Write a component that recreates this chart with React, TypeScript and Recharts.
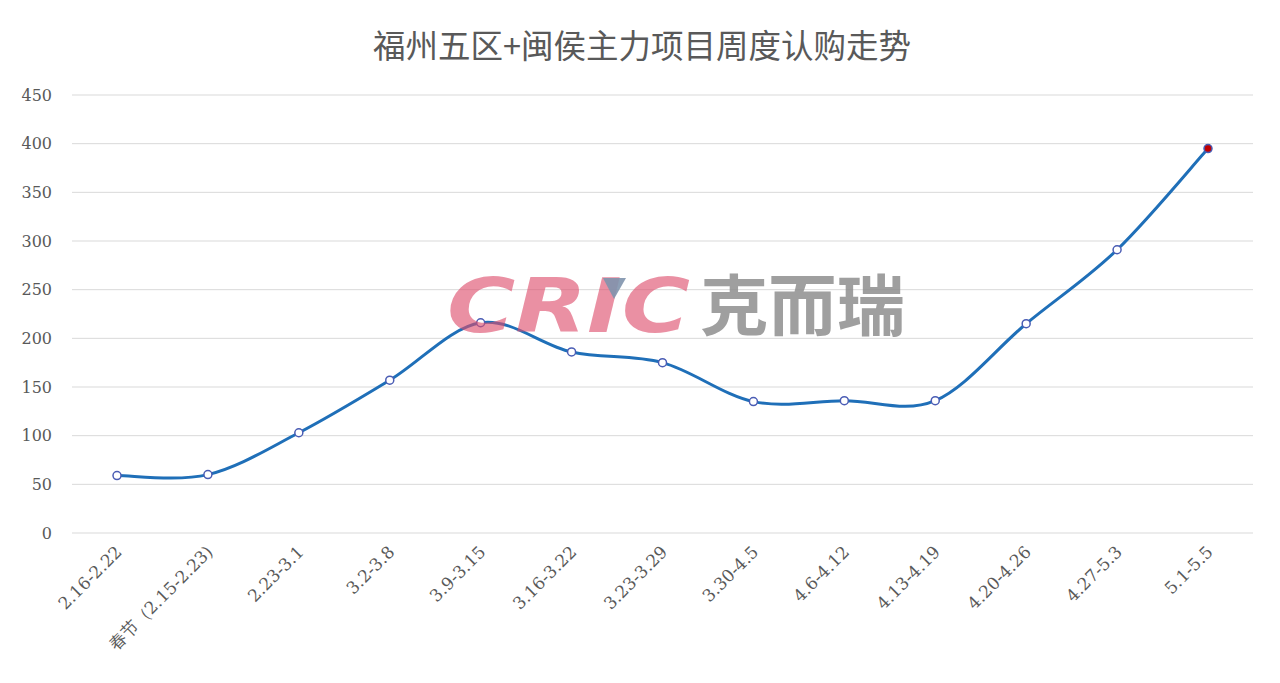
import React from "react";
import { LineChart, Line, XAxis, YAxis, CartesianGrid } from "recharts";

const categories = [
  "2.16-2.22",
  "春节（2.15-2.23)",
  "2.23-3.1",
  "3.2-3.8",
  "3.9-3.15",
  "3.16-3.22",
  "3.23-3.29",
  "3.30-4.5",
  "4.6-4.12",
  "4.13-4.19",
  "4.20-4.26",
  "4.27-5.3",
  "5.1-5.5",
];
const subscriptions = [59, 60, 103, 157, 216, 186, 175, 135, 136, 136, 215, 291, 395];
const yTicks = [0, 50, 100, 150, 200, 250, 300, 350, 400, 450];
const title = "福州五区+闽侯主力项目周度认购走势";

const data = categories.map((c, i) => ({ week: c, value: subscriptions[i] }));

// Excel-style smoothed line (Catmull-Rom as cubic Bezier)
function excelCurve(context: any) {
  let pts: number[][] = [];
  return {
    areaStart() {},
    areaEnd() {},
    lineStart() {
      pts = [];
    },
    lineEnd() {
      if (!pts.length) return;
      context.moveTo(pts[0][0], pts[0][1]);
      for (let i = 0; i < pts.length - 1; i++) {
        const p0 = pts[i - 1] || pts[i];
        const p1 = pts[i];
        const p2 = pts[i + 1];
        const p3 = pts[i + 2] || p2;
        context.bezierCurveTo(
          p1[0] + (p2[0] - p0[0]) / 6,
          p1[1] + (p2[1] - p0[1]) / 6,
          p2[0] - (p3[0] - p1[0]) / 6,
          p2[1] - (p3[1] - p1[1]) / 6,
          p2[0],
          p2[1]
        );
      }
    },
    point(x: number, y: number) {
      pts.push([+x, +y]);
    },
  };
}

const axisFont = "'DejaVu Serif', 'Liberation Serif', serif";

const XTick = (props: any) => {
  const { x, y, payload } = props;
  const ax = x + 6;
  const ay = y + 12;
  return (
    <text
      x={ax}
      y={ay}
      textAnchor="end"
      fill="#595959"
      fontSize={17}
      fontFamily={axisFont}
      transform={`rotate(-45, ${ax}, ${ay})`}
    >
      {payload.value}
    </text>
  );
};

const Dot = (props: any) => {
  const { cx, cy, index } = props;
  const last = index === subscriptions.length - 1;
  return (
    <circle
      key={`d${index}`}
      cx={cx}
      cy={cy}
      r={4}
      fill={last ? "#c00000" : "#ffffff"}
      stroke="#4a5cb4"
      strokeWidth={1.5}
    />
  );
};

export default function App() {
  return (
    <div style={{ position: "fixed", left: 0, top: 0, width: 1280, height: 683, background: "#fff" }}>
      <div
        style={{
          position: "absolute",
          left: 0,
          top: 23,
          width: 1284,
          textAlign: "center",
          fontSize: 32.5,
          color: "#595959",
          fontFamily: "'Noto Sans CJK SC', sans-serif",
          lineHeight: "42px",
        }}
      >
        {title}
      </div>
      <LineChart
        width={1280}
        height={683}
        data={data}
        margin={{ top: 95, right: 27, bottom: 0, left: 12 }}
      >
        <CartesianGrid vertical={false} stroke="#d9d9d9" strokeWidth={1} />
        <XAxis
          dataKey="week"
          height={150}
          axisLine={false}
          tickLine={false}
          interval={0}
          padding={{ left: 45, right: 45 }}
          tick={<XTick />}
        />
        <YAxis
          width={60}
          domain={[0, 450]}
          ticks={yTicks}
          axisLine={false}
          tickLine={false}
          tickSize={0}
          tickMargin={20}
          tick={{ fill: "#595959", fontSize: 16, fontFamily: axisFont }}
        />
        <Line
          dataKey="value"
          type={excelCurve as any}
          stroke="#1f6fb8"
          strokeWidth={3}
          dot={<Dot />}
          activeDot={false}
          isAnimationActive={false}
        />
      </LineChart>
      <svg
        width={1280}
        height={683}
        style={{ position: "absolute", left: 0, top: 0, pointerEvents: "none" }}
      >
        <text
          x={447}
          y={332}
          textLength={243}
          lengthAdjust="spacingAndGlyphs"
          fontSize={74}
          fontWeight="bold"
          fontStyle="italic"
          fill="#de4d6c"
          opacity={0.62}
          fontFamily="'DejaVu Sans', sans-serif"
        >
          CRIC
        </text>
        <polygon points="603,278 626,278 614,299" fill="#7f93ad" opacity={0.9} />
        <text
          x={700}
          y={330}
          textLength={205}
          lengthAdjust="spacingAndGlyphs"
          fontSize={66}
          fontWeight="bold"
          fill="#8f8f8f"
          opacity={0.85}
          fontFamily="'Noto Sans CJK SC', sans-serif"
        >
          克而瑞
        </text>
      </svg>
    </div>
  );
}
